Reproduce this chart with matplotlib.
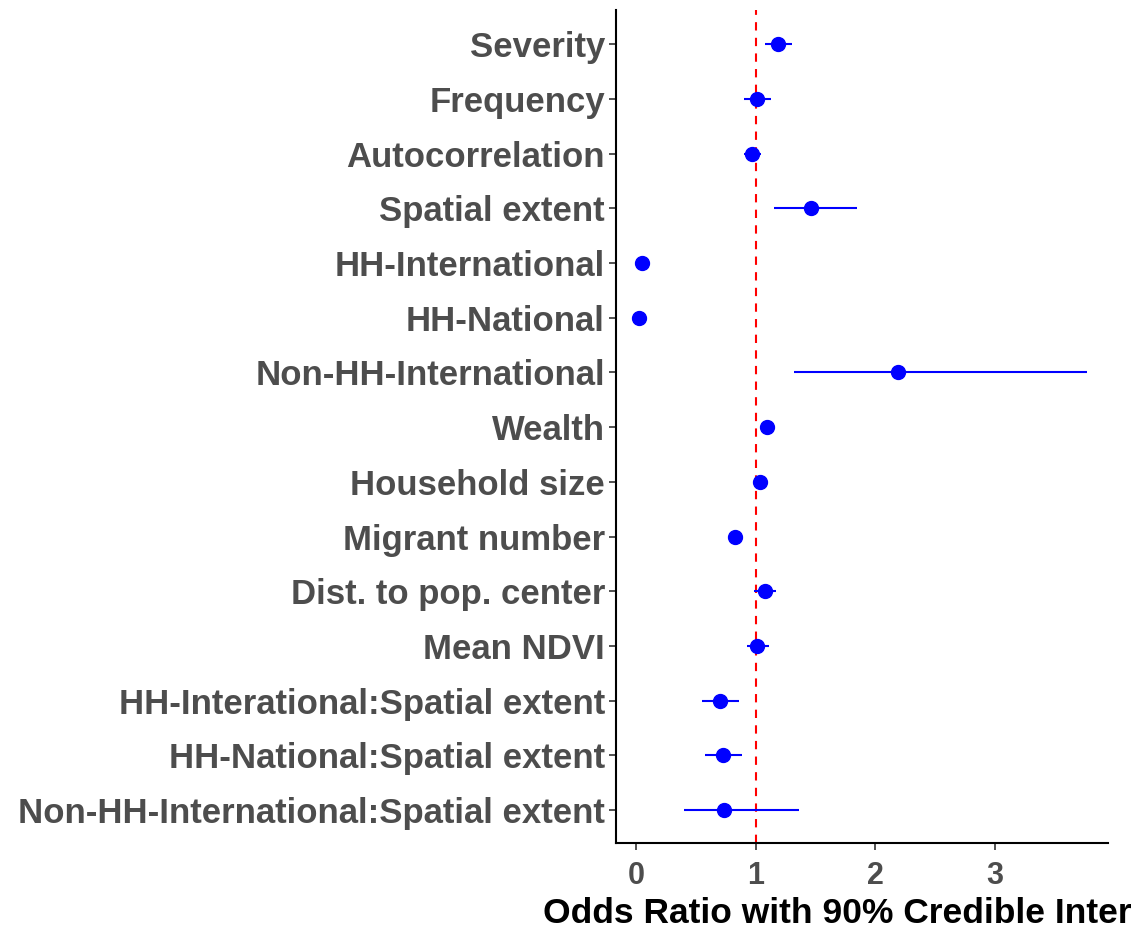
import matplotlib.pyplot as plt

# 变量名称（从上到下）
labels = ["Severity", "Frequency", "Autocorrelation", "Spatial extent",
          "HH-International", "HH-National", "Non-HH-International",
          "Wealth", "Household size", "Migrant number",
          "Dist. to pop. center", "Mean NDVI",
          "HH-Interational:Spatial extent", "HH-National:Spatial extent",
          "Non-HH-International:Spatial extent"]
odds = [1.185, 1.01, 0.97, 1.46, 0.053, 0.028, 2.19, 1.095, 1.04, 0.83,
        1.08, 1.01, 0.70, 0.725, 0.735]
lower = [1.08, 0.90, 0.90, 1.15, 0.045, 0.022, 1.32, 1.07, 1.02, 0.81,
         0.99, 0.925, 0.55, 0.575, 0.40]
upper = [1.30, 1.13, 1.045, 1.85, 0.062, 0.034, 3.77, 1.12, 1.06, 0.85,
         1.17, 1.11, 0.86, 0.89, 1.36]
xticks = [0, 1, 2, 3]

plt.rcParams['font.family'] = ['Liberation Sans', 'DejaVu Sans']

fig = plt.figure(figsize=(11.31, 9.30), dpi=100)
ax = fig.add_axes([0.5447, 0.0935, 0.435, 0.8955])

n = len(labels)
ypos = list(range(n, 0, -1))

#置信区间
ax.hlines(ypos, lower, upper, color='blue', linewidth=1.5, zorder=2)
#点估计
ax.plot(odds, ypos, 'o', color='blue', markersize=10, zorder=3)
#参考线
ax.axvline(1, color='red', linestyle=(0, (4, 3.5)), linewidth=1.5, zorder=1)

ax.set_xlim(-0.167, 3.946)
ax.set_ylim(0.4, n + 0.62)
ax.set_yticks(ypos)
ax.set_yticklabels(labels, fontsize=25, fontweight='bold', color='#4d4d4d')
ax.set_xticks(xticks)
ax.set_xticklabels([str(t) for t in xticks], fontsize=22, fontweight='bold', color='#4d4d4d')
ax.tick_params(axis='y', length=5, width=1.2, color='#333333', pad=3)
ax.tick_params(axis='x', length=5, width=1.2, color='#333333', pad=8)

# 横轴标题（原图右侧被截断）
ax.set_xlabel("Odds Ratio with 90% Credible Interval", fontsize=25.5,
              fontweight='bold', color='black', labelpad=4)

for s in ['top', 'right']:
    ax.spines[s].set_visible(False)
for s in ['left', 'bottom']:
    ax.spines[s].set_linewidth(1.5)
    ax.spines[s].set_color('black')

fig.savefig("out.png", dpi=100)
